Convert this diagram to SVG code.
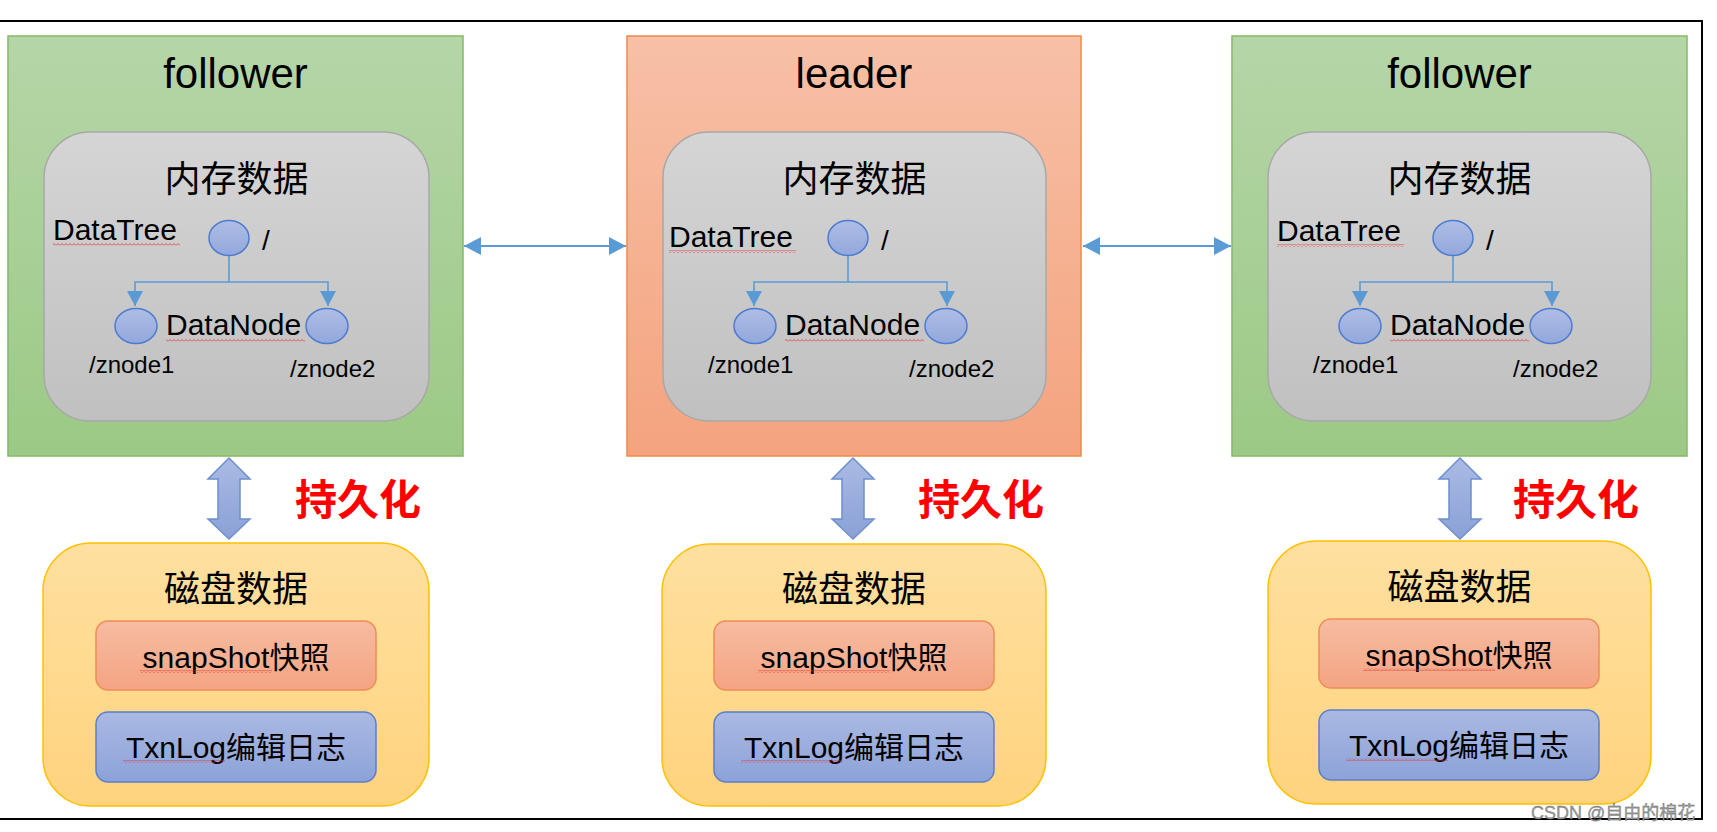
<svg xmlns="http://www.w3.org/2000/svg" xmlns:xlink="http://www.w3.org/1999/xlink" width="1717" height="832" viewBox="0 0 1717 832">
<style>
text{font-family:"Liberation Sans","Noto Sans CJK SC",sans-serif;fill:#000}
.title{font-size:42px;text-anchor:middle}
.cjk{font-size:36px;text-anchor:middle}
.lbl{font-size:30px}
.zn{font-size:24px}
.persist{font-size:42px;font-weight:bold;fill:#ff0000}
.inner{font-size:30px;text-anchor:middle}
.follower{fill:url(#gGreen);stroke:#84bb66;stroke-width:1.5}
.leader{fill:url(#gPeach);stroke:#ee8a4f;stroke-width:1.5}
.mem{fill:url(#gGray);stroke:#a8a8a8;stroke-width:1.5}
.dn{fill:url(#gBlue);stroke:#4d7bd0;stroke-width:1.5}
.tree{fill:none;stroke:#5b9bd5;stroke-width:1.6}
.disk{fill:url(#gYellow);stroke:#ffc000;stroke-width:1.5}
.snap{fill:url(#gSnap);stroke:#ef8c55;stroke-width:1.5}
.txn{fill:url(#gTxn);stroke:#5a7fcc;stroke-width:1.5}
.blk{fill:url(#gArrow);stroke:#6f8fcf;stroke-width:1.5}
.link{stroke:#5b9bd5;stroke-width:2;fill:none}
.wave{fill:url(#wave)}
</style>
<defs>
<linearGradient id="gGreen" x1="0" y1="0" x2="0" y2="1"><stop offset="0" stop-color="#b5d6a8"/><stop offset="1" stop-color="#9cc985"/></linearGradient>
<linearGradient id="gPeach" x1="0" y1="0" x2="0" y2="1"><stop offset="0" stop-color="#f7c0a7"/><stop offset="1" stop-color="#f4a37e"/></linearGradient>
<linearGradient id="gGray" x1="0" y1="0" x2="0" y2="1"><stop offset="0" stop-color="#d5d5d5"/><stop offset="1" stop-color="#c0c0c0"/></linearGradient>
<linearGradient id="gBlue" x1="0" y1="0" x2="0" y2="1"><stop offset="0" stop-color="#aebde5"/><stop offset="1" stop-color="#92a8dc"/></linearGradient>
<linearGradient id="gYellow" x1="0" y1="0" x2="0" y2="1"><stop offset="0" stop-color="#ffe0a0"/><stop offset="1" stop-color="#ffd37e"/></linearGradient>
<linearGradient id="gSnap" x1="0" y1="0" x2="0" y2="1"><stop offset="0" stop-color="#f6bca2"/><stop offset="1" stop-color="#f4a482"/></linearGradient>
<linearGradient id="gTxn" x1="0" y1="0" x2="0" y2="1"><stop offset="0" stop-color="#aab9e3"/><stop offset="1" stop-color="#8ca2d8"/></linearGradient>
<linearGradient id="gArrow" x1="0" y1="0" x2="0" y2="1"><stop offset="0" stop-color="#aabae3"/><stop offset="1" stop-color="#8aa1d6"/></linearGradient>
<pattern id="wave" patternUnits="userSpaceOnUse" width="4" height="3"><path d="M0 2.5 L2 0.5 L4 2.5" fill="none" stroke="#e03030" stroke-width="0.8"/></pattern>
<marker id="ah" markerUnits="userSpaceOnUse" markerWidth="18" markerHeight="20" refX="17" refY="9" orient="auto-start-reverse"><path d="M0,0 L17,9 L0,18 Z" fill="#5b9bd5"/></marker>
<marker id="th" markerUnits="userSpaceOnUse" markerWidth="16" markerHeight="18" refX="15" refY="8" orient="auto"><path d="M0,0 L15,8 L0,16 Z" fill="#5b9bd5"/></marker>
<path id="dbl" d="M0,458 L21,479 L11,479 L11,519 L21,519 L0,539 L-21,519 L-11,519 L-11,479 L-21,479 Z"/>
</defs>

<rect x="-5" y="21" width="1707" height="798" fill="none" stroke="#000" stroke-width="2"/>

<!-- follower 1 -->
<g id="follower1">
<rect class="follower" x="8" y="36" width="455" height="420"/>
<text class="title" x="235.5" y="88">follower</text>
<rect class="mem" x="44" y="132" width="385" height="289" rx="46" ry="46"/>
<text class="cjk" x="236.5" y="192">内存数据</text>
<text class="lbl" x="53" y="240">DataTree</text>
<rect class="wave" x="53" y="243" width="127" height="3"/>
<path class="tree" d="M229,255.5 V282 H135 V306" marker-end="url(#th)"/>
<path class="tree" d="M229,282 H328 V306" marker-end="url(#th)"/>
<ellipse class="dn" cx="229" cy="238" rx="20" ry="17.5"/>
<text class="lbl" x="262" y="250" style="font-size:28px">/</text>
<ellipse class="dn" cx="136" cy="326" rx="21" ry="17.5"/>
<ellipse class="dn" cx="327" cy="326" rx="21" ry="17.5"/>
<text class="lbl" x="166" y="335">DataNode</text>
<rect class="wave" x="166" y="339" width="139" height="3"/>
<text class="zn" x="89" y="373">/znode1</text>
<text class="zn" x="290" y="377">/znode2</text>
</g>

<!-- leader -->
<g id="leader">
<rect class="leader" x="627" y="36" width="454" height="420"/>
<text class="title" x="854" y="88">leader</text>
<rect class="mem" x="663" y="132" width="383" height="289" rx="46" ry="46"/>
<text class="cjk" x="854.5" y="192">内存数据</text>
<text class="lbl" x="669" y="247">DataTree</text>
<rect class="wave" x="669" y="250" width="127" height="3"/>
<path class="tree" d="M848,255.5 V282 H754 V306" marker-end="url(#th)"/>
<path class="tree" d="M848,282 H947 V306" marker-end="url(#th)"/>
<ellipse class="dn" cx="848" cy="238" rx="20" ry="17.5"/>
<text class="lbl" x="881" y="250" style="font-size:28px">/</text>
<ellipse class="dn" cx="755" cy="326" rx="21" ry="17.5"/>
<ellipse class="dn" cx="946" cy="326" rx="21" ry="17.5"/>
<text class="lbl" x="785" y="335">DataNode</text>
<rect class="wave" x="785" y="339" width="139" height="3"/>
<text class="zn" x="708" y="373">/znode1</text>
<text class="zn" x="909" y="377">/znode2</text>
</g>

<!-- follower 2 -->
<g id="follower2">
<rect class="follower" x="1232" y="36" width="455" height="420"/>
<text class="title" x="1459.5" y="88">follower</text>
<rect class="mem" x="1268" y="132" width="383" height="289" rx="46" ry="46"/>
<text class="cjk" x="1459.5" y="192">内存数据</text>
<text class="lbl" x="1277" y="241">DataTree</text>
<rect class="wave" x="1277" y="244" width="127" height="3"/>
<path class="tree" d="M1453,255.5 V282 H1360 V306" marker-end="url(#th)"/>
<path class="tree" d="M1453,282 H1552 V306" marker-end="url(#th)"/>
<ellipse class="dn" cx="1453" cy="238" rx="20" ry="17.5"/>
<text class="lbl" x="1486" y="250" style="font-size:28px">/</text>
<ellipse class="dn" cx="1360" cy="326" rx="21" ry="17.5"/>
<ellipse class="dn" cx="1551" cy="326" rx="21" ry="17.5"/>
<text class="lbl" x="1390" y="335">DataNode</text>
<rect class="wave" x="1390" y="339" width="139" height="3"/>
<text class="zn" x="1313" y="373">/znode1</text>
<text class="zn" x="1513" y="377">/znode2</text>
</g>

<!-- disk 1 -->
<g id="disk1">
<rect class="disk" x="43" y="543" width="386" height="263" rx="48" ry="48"/>
<text class="cjk" x="236" y="602">磁盘数据</text>
<rect class="snap" x="96" y="621" width="280" height="69" rx="12" ry="12"/>
<text class="inner" x="236" y="668">snapShot快照</text>
<rect class="wave" x="140" y="670" width="132" height="3"/>
<rect class="txn" x="96" y="712" width="280" height="70" rx="12" ry="12"/>
<text class="inner" x="236" y="758">TxnLog编辑日志</text>
<rect class="wave" x="123" y="760" width="102" height="3"/>
</g>

<!-- disk 2 -->
<g id="disk2">
<rect class="disk" x="662" y="544" width="384" height="262" rx="48" ry="48"/>
<text class="cjk" x="854" y="602">磁盘数据</text>
<rect class="snap" x="714" y="621" width="280" height="69" rx="12" ry="12"/>
<text class="inner" x="854" y="668">snapShot快照</text>
<rect class="wave" x="758" y="670" width="132" height="3"/>
<rect class="txn" x="714" y="712" width="280" height="70" rx="12" ry="12"/>
<text class="inner" x="854" y="758">TxnLog编辑日志</text>
<rect class="wave" x="741" y="760" width="102" height="3"/>
</g>

<!-- disk 3 -->
<g id="disk3">
<rect class="disk" x="1268" y="541" width="383" height="263" rx="48" ry="48"/>
<text class="cjk" x="1459.5" y="600">磁盘数据</text>
<rect class="snap" x="1319" y="619" width="280" height="69" rx="12" ry="12"/>
<text class="inner" x="1459" y="666">snapShot快照</text>
<rect class="wave" x="1363" y="668" width="132" height="3"/>
<rect class="txn" x="1319" y="710" width="280" height="70" rx="12" ry="12"/>
<text class="inner" x="1459" y="756">TxnLog编辑日志</text>
<rect class="wave" x="1346" y="758" width="102" height="3"/>
</g>

<!-- connectors -->
<g id="connectors">
<line class="link" x1="464" y1="246" x2="626" y2="246" marker-start="url(#ah)" marker-end="url(#ah)"/>
<line class="link" x1="1083" y1="246" x2="1231" y2="246" marker-start="url(#ah)" marker-end="url(#ah)"/>
<use xlink:href="#dbl" class="blk" x="229" y="0"/>
<use xlink:href="#dbl" class="blk" x="853" y="0"/>
<use xlink:href="#dbl" class="blk" x="1460" y="0"/>
<text class="persist" x="295" y="515">持久化</text>
<text class="persist" x="918" y="515">持久化</text>
<text class="persist" x="1513" y="515">持久化</text>
</g>

<text x="1531" y="819" style="font-size:18px;fill:#9a9a9a;stroke:#6a6a6a;stroke-width:0.3">CSDN @自由的棉花</text>
</svg>
